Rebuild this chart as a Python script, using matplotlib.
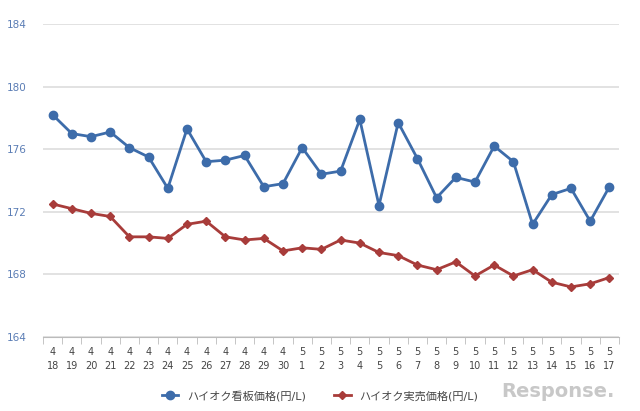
import matplotlib.pyplot as plt
import numpy as np

months = [4] * 13 + [5] * 17
days = [18, 19, 20, 21, 22, 23, 24, 25, 26, 27, 28, 29, 30,
        1, 2, 3, 4, 5, 6, 7, 8, 9, 10, 11, 12, 13, 14, 15, 16, 17]
tick_labels = [f"{m}\n{d}" for m, d in zip(months, days)]

signboard = [178.2, 177.0, 176.8, 177.1, 176.1, 175.5, 173.5, 177.3, 175.2, 175.3,
             175.6, 173.6, 173.8, 176.1, 174.4, 174.6, 177.9, 172.4, 177.7, 175.4,
             172.9, 174.2, 173.9, 176.2, 175.2, 171.2, 173.1, 173.5, 171.4, 173.6]
actual = [172.5, 172.2, 171.9, 171.7, 170.4, 170.4, 170.3, 171.2, 171.4, 170.4,
          170.2, 170.3, 169.5, 169.7, 169.6, 170.2, 170.0, 169.4, 169.2, 168.6,
          168.3, 168.8, 167.9, 168.6, 167.9, 168.3, 167.5, 167.2, 167.4, 167.8]

plt.rcParams["font.family"] = ["DejaVu Sans", "Noto Sans CJK JP"]
fig = plt.figure(figsize=(6.4, 4.11), dpi=100)
ax = fig.add_axes([43 / 640, 1 - 337 / 411, 576 / 640, 313 / 411])

x = np.arange(len(signboard))
ax.plot(x, signboard, color="#3d6caa", lw=2, marker="o", ms=6,
        label="ハイオク看板価格(円/L)")
ax.plot(x, actual, color="#a83c3a", lw=2, marker="D", ms=4,
        label="ハイオク実売価格(円/L)")

ax.set_xlim(-0.5, len(x) - 0.5)
ax.set_ylim(164, 184)
ax.set_yticks([164, 168, 172, 176, 180, 184])
ax.yaxis.grid(True, color="#dddddd", lw=1.2)
ax.set_axisbelow(True)
ax.tick_params(axis="y", length=0, labelsize=7.5, labelcolor="#5b7db5", pad=12)
ax.set_xticks(x)
ax.set_xticklabels(tick_labels, fontsize=7, color="#444444", linespacing=1.5)
ax.set_xticks(np.arange(len(x) + 1) - 0.5, minor=True)
ax.tick_params(axis="x", which="major", length=0, pad=7)
ax.tick_params(axis="x", which="minor", length=5, color="#bbbbbb")
for s in ["top", "right", "left"]:
    ax.spines[s].set_visible(False)
ax.spines["bottom"].set_color("#bbbbbb")

leg = fig.legend(loc="lower center", bbox_to_anchor=(0.5, 0.0), ncol=2, frameon=False,
                 fontsize=8, handlelength=1.5, columnspacing=2.5)
for t in leg.get_texts():
    t.set_color("#444444")
fig.text(0.96, 0.035, "Response.", ha="right", fontsize=14, color="#c8c8c8",
         fontweight="bold")
fig.savefig("out.png", dpi=100)
